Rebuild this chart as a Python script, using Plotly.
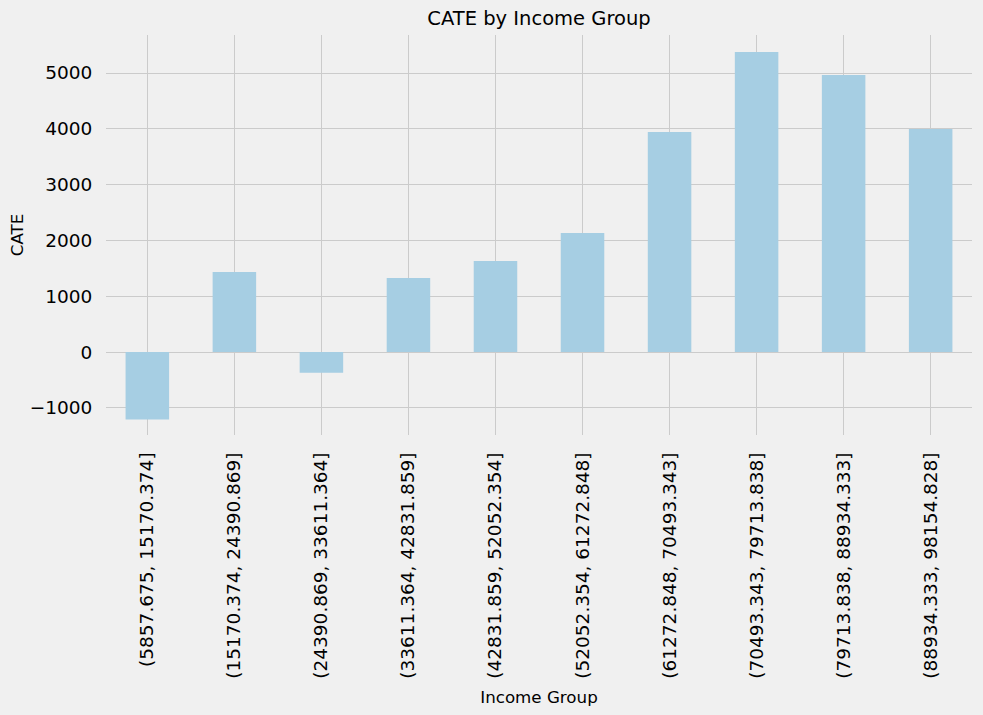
import plotly.graph_objects as go

categories = [
    "(5857.675, 15170.374]",
    "(15170.374, 24390.869]",
    "(24390.869, 33611.364]",
    "(33611.364, 42831.859]",
    "(42831.859, 52052.354]",
    "(52052.354, 61272.848]",
    "(61272.848, 70493.343]",
    "(70493.343, 79713.838]",
    "(79713.838, 88934.333]",
    "(88934.333, 98154.828]",
]
cate_values = [-1207, 1434, -371, 1326, 1631, 2133, 3943, 5376, 4964, 3996]
y_tick_values = [-1000, 0, 1000, 2000, 3000, 4000, 5000]

BG = "#f0f0f0"
GRID = "#cbcbcb"
FONT = "DejaVu Sans"

fig = go.Figure(
    go.Bar(
        x=categories,
        y=cate_values,
        width=0.5,
        marker=dict(color="#a6cee3", line=dict(width=0)),
    )
)

fig.update_layout(
    width=983,
    height=715,
    paper_bgcolor=BG,
    plot_bgcolor=BG,
    margin=dict(l=106, r=11, t=35, b=280),
    showlegend=False,
    font=dict(family=FONT, color="#000000", size=18),
    title=dict(
        text="CATE by Income Group",
        x=0.5,
        xref="paper",
        xanchor="center",
        y=1 - 18 / 715,
        yref="container",
        yanchor="middle",
        font=dict(family=FONT, size=19.5, color="#000000"),
    ),
)

fig.update_xaxes(
    type="category",
    range=[-0.475, 9.475],
    tickangle=-90,
    showgrid=True,
    gridcolor=GRID,
    gridwidth=1.4,
    ticks="outside",
    ticklen=9,
    tickcolor=BG,
    tickfont=dict(family=FONT, size=18.5, color="#000000"),
    showline=False,
    zeroline=False,
    automargin=False,
    title=dict(text="Income Group", font=dict(family=FONT, size=16.7, color="#000000"), standoff=13),
)

fig.update_yaxes(
    range=[-1487, 5681],
    tickvals=y_tick_values,
    showgrid=True,
    gridcolor=GRID,
    gridwidth=1.4,
    zeroline=False,
    ticks="outside",
    ticklen=9,
    tickcolor=BG,
    tickfont=dict(family=FONT, size=18.5, color="#000000"),
    showline=False,
    automargin=False,
    title=dict(text="CATE", font=dict(family=FONT, size=16.7, color="#000000"), standoff=1),
)

fig.write_html(
    "out.html",
    config={"displayModeBar": False},
    post_script="document.body.style.margin='0';document.body.style.background='#f0f0f0';",
)
